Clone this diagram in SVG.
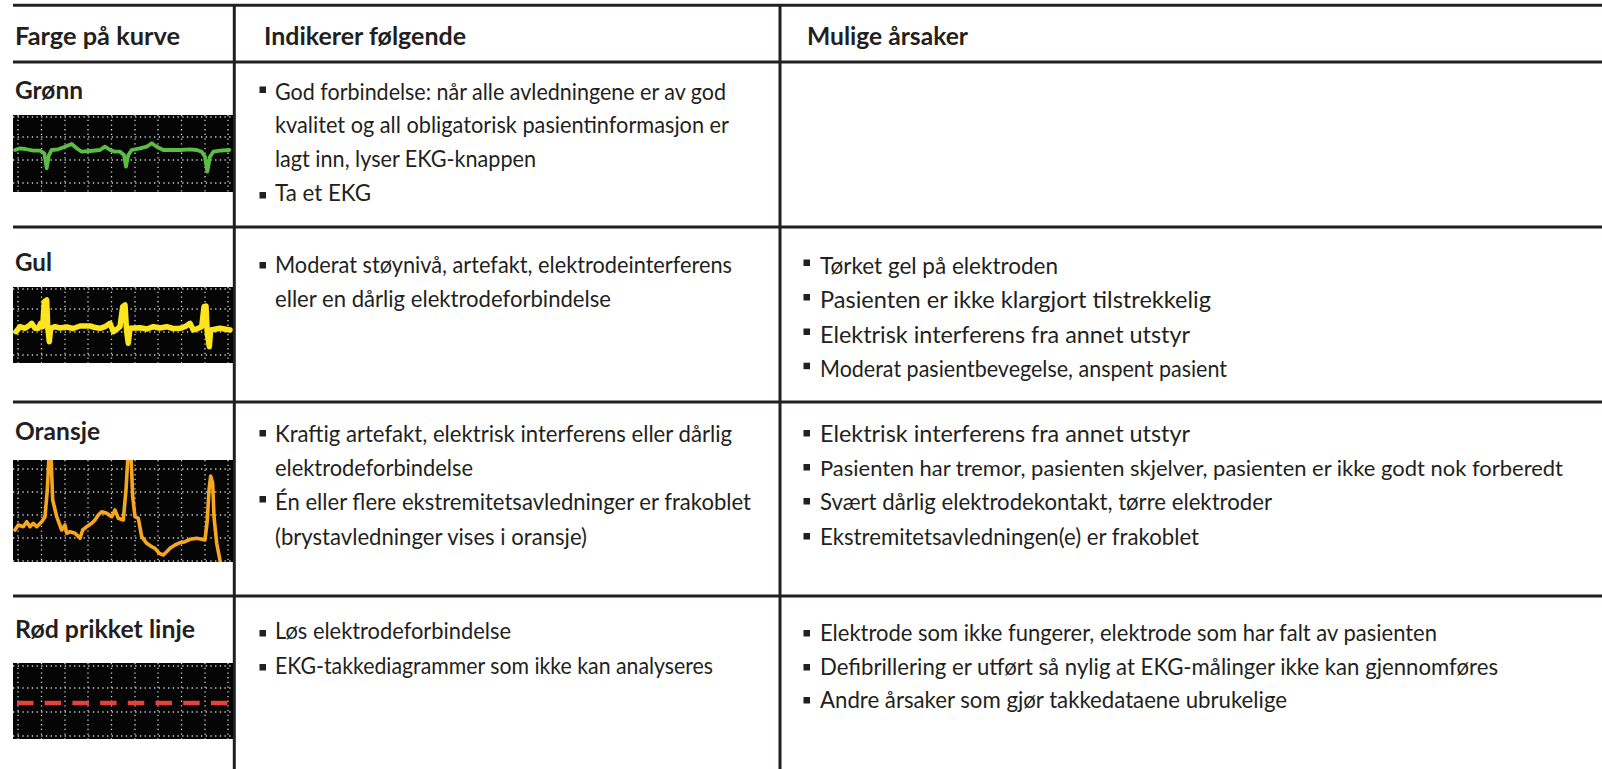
<svg xmlns="http://www.w3.org/2000/svg" width="1602" height="769" viewBox="0 0 1602 769">
<style>
.t{font-family:Lato,"Open Sans","Liberation Sans",sans-serif;font-size:24px;fill:#231f20}
.b{font-weight:700}
.rule{stroke:#231f20;stroke-width:2.8;fill:none}
.grid{stroke:#d2d2d2;stroke-width:1.3;stroke-dasharray:1.3 3.4;fill:none}
.bul{fill:#231f20}
.bg{fill:#050505}
.trace{fill:none;stroke-linejoin:round;stroke-linecap:round}
</style>
<defs>
<clipPath id="clipO"><rect x="13" y="460" width="220" height="102"/></clipPath>
</defs>
<rect width="1602" height="769" fill="#ffffff"/>

<g id="rules">
<line class="rule" x1="13" y1="5.3" x2="1602" y2="5.3" style="stroke-width:3"/>
<line class="rule" x1="13" y1="62" x2="1602" y2="62"/>
<line class="rule" x1="13" y1="227" x2="1602" y2="227"/>
<line class="rule" x1="13" y1="402" x2="1602" y2="402"/>
<line class="rule" x1="13" y1="596" x2="1602" y2="596"/>
<line class="rule" x1="234.3" y1="4" x2="234.3" y2="769" style="stroke-width:3"/>
<line class="rule" x1="780" y1="4" x2="780" y2="769" style="stroke-width:3"/>
</g>

<g id="header">
<text class="t b" x="15" y="45" textLength="165" lengthAdjust="spacingAndGlyphs">Farge på kurve</text>
<text class="t b" x="264" y="45" textLength="202" lengthAdjust="spacingAndGlyphs">Indikerer følgende</text>
<text class="t b" x="807" y="45" textLength="161" lengthAdjust="spacingAndGlyphs">Mulige årsaker</text>
</g>

<g id="row-gronn">
<text class="t b" x="15" y="99" textLength="68" lengthAdjust="spacingAndGlyphs">Grønn</text>
<g id="ecg-green">
<rect class="bg" x="13" y="115" width="220" height="77"/>
<g class="grid">
<path d="M18 115V192M41.5 115V192M65 115V192M88 115V192M111.5 115V192M135 115V192M158 115V192M181.5 115V192M205 115V192M228 115V192"/>
<path d="M13 117H233M13 137H233M13 160H233M13 183H233"/>
</g>
<path class="trace" stroke="#5cbd45" stroke-width="3.8" d="M15 150L20 148.3L25 149L33.3 150.7L40 150.7L44.3 153.3L46.7 168.3L49 155L51.7 150L58.3 149.3L65 146.7L71.7 144L76.7 148.3L81.7 151.7L90 151L100 150L105 146.7L110 150L115 151.7L120 151.7L124 155L126 166.7L128.3 155L131.7 150L140 148.3L146.7 146.7L151.7 143.3L156.7 146.7L163.3 150L170 150L180 150L190 149.3L196.7 150L201.7 151.7L205 156.7L207.3 171.7L210 156.7L213.3 151.7L220 150.7L229.3 150"/>
</g>
<g id="ind-gronn">
<rect class="bul" x="259.5" y="86.5" width="6.5" height="6.5"/>
<text class="t" x="275" y="100" textLength="451" lengthAdjust="spacingAndGlyphs">God forbindelse: når alle avledningene er av god</text>
<text class="t" x="275" y="133" textLength="454" lengthAdjust="spacingAndGlyphs">kvalitet og all obligatorisk pasientinformasjon er</text>
<text class="t" x="275" y="167" textLength="261" lengthAdjust="spacingAndGlyphs">lagt inn, lyser EKG-knappen</text>
<rect class="bul" x="259.5" y="192" width="6.5" height="6.5"/>
<text class="t" x="275" y="201" textLength="96" lengthAdjust="spacingAndGlyphs">Ta et EKG</text>
</g>
</g>

<g id="row-gul">
<text class="t b" x="15" y="271" textLength="37" lengthAdjust="spacingAndGlyphs">Gul</text>
<g id="ecg-yellow">
<rect class="bg" x="13" y="287" width="220" height="76"/>
<g class="grid">
<path d="M18 287V363M41.5 287V363M65 287V363M88 287V363M111.5 287V363M135 287V363M158 287V363M181.5 287V363M205 287V363M228 287V363"/>
<path d="M13 289H233M13 309H233M13 332H233M13 355H233"/>
</g>
<path class="trace" stroke="#fde51e" stroke-width="5.5" d="M16 331.7L20 326.7L25 328.3L30 325L31.7 323.3L35 328.3L38.3 328.3L40.7 323.3L42.7 326.7L44.3 301.7L46.7 300L47.7 326.7L49.3 341.7L50.7 328.3L55 326.7L60 328L66.7 327L73 328.5L80 326L90 326L95 327.5L100 328.3L105 326.7L110 323.3L113.3 331.7L116.7 329.3L120 326.7L122.7 306.7L125 305L126.7 331.7L128.3 343.3L130 328.3L140 327.7L147 329L153.3 326.7L160 328L166.7 326.7L173 328.5L180 328.3L185 326.7L190 323.3L193.3 330L198.3 328.3L201.7 326.7L204 306.7L206 306L207.3 333.3L209.3 346.7L210.7 330L220 328.3L230 330"/>
</g>
<g id="ind-gul">
<rect class="bul" x="259.5" y="262" width="6.5" height="6.5"/>
<text class="t" x="275" y="273" textLength="457" lengthAdjust="spacingAndGlyphs">Moderat støynivå, artefakt, elektrodeinterferens</text>
<text class="t" x="275" y="307" textLength="336" lengthAdjust="spacingAndGlyphs">eller en dårlig elektrodeforbindelse</text>
</g>
<g id="aar-gul">
<rect class="bul" x="803.5" y="259.5" width="6.5" height="6.5"/>
<text class="t" x="820" y="274" textLength="238" lengthAdjust="spacingAndGlyphs">Tørket gel på elektroden</text>
<rect class="bul" x="803.5" y="294" width="6.5" height="6.5"/>
<text class="t" x="820" y="308" textLength="391" lengthAdjust="spacingAndGlyphs">Pasienten er ikke klargjort tilstrekkelig</text>
<rect class="bul" x="803.5" y="328.5" width="6.5" height="6.5"/>
<text class="t" x="820" y="343" textLength="370" lengthAdjust="spacingAndGlyphs">Elektrisk interferens fra annet utstyr</text>
<rect class="bul" x="803.5" y="362.7" width="6.5" height="6.5"/>
<text class="t" x="820" y="377" textLength="407" lengthAdjust="spacingAndGlyphs">Moderat pasientbevegelse, anspent pasient</text>
</g>
</g>

<g id="row-oransje">
<text class="t b" x="15" y="440" textLength="85" lengthAdjust="spacingAndGlyphs">Oransje</text>
<g id="ecg-orange">
<rect class="bg" x="13" y="460" width="220" height="102"/>
<g class="grid">
<path d="M18 460V562M41.5 460V562M65 460V562M88 460V562M111.5 460V562M135 460V562M158 460V562M181.5 460V562M205 460V562M228 460V562"/>
<path d="M13 469H233M13 492H233M13 515H233M13 538H233M13 561H233"/>
</g>
<path class="trace" clip-path="url(#clipO)" stroke="#f6a71f" stroke-width="3.6" d="M15 530L18.3 525L23.3 526.7L26.7 521.7L30 526.7L33.3 523.3L36.7 526.7L41.7 521.7L45 516.7L47.3 490L49 455L51 455L52.7 500L56.7 516.7L61.7 530L65 525L66.7 533.3L70 531.7L75 533.3L80 538.3L82.7 530L86.7 526.7L91.7 523.3L95 520L98.3 515L101.7 511.7L106.7 513.3L111.7 516.7L115 510L118.3 518.3L123.3 520L126 490L128 455L131 455L132.7 496.7L135 516.7L138.3 518.3L141.7 536.7L146.7 543.3L151.7 546.7L155 548.3L159.3 553.3L163.3 555L166.7 551.7L170 548.3L175 545L180 542.7L185 541.7L190 539.3L196.7 538.3L201.7 539.3L205 540L207.3 520L209 490L210.7 476L212.7 483.3L214 516.7L216.7 543.3L219.3 556.7L221 566"/>
</g>
<g id="ind-oransje">
<rect class="bul" x="259.5" y="430" width="6.5" height="6.5"/>
<text class="t" x="275" y="442" textLength="457" lengthAdjust="spacingAndGlyphs">Kraftig artefakt, elektrisk interferens eller dårlig</text>
<text class="t" x="275" y="476" textLength="198" lengthAdjust="spacingAndGlyphs">elektrodeforbindelse</text>
<rect class="bul" x="259.5" y="496" width="6.5" height="6.5"/>
<text class="t" x="275" y="510" textLength="476" lengthAdjust="spacingAndGlyphs">Én eller flere ekstremitetsavledninger er frakoblet</text>
<text class="t" x="275" y="545" textLength="312" lengthAdjust="spacingAndGlyphs">(brystavledninger vises i oransje)</text>
</g>
<g id="aar-oransje">
<rect class="bul" x="803.5" y="430" width="6.5" height="6.5"/>
<text class="t" x="820" y="442" textLength="370" lengthAdjust="spacingAndGlyphs">Elektrisk interferens fra annet utstyr</text>
<rect class="bul" x="803.5" y="464" width="6.5" height="6.5"/>
<text class="t" x="820" y="476" style="font-size:22px" textLength="743" lengthAdjust="spacingAndGlyphs">Pasienten har tremor, pasienten skjelver, pasienten er ikke godt nok forberedt</text>
<rect class="bul" x="803.5" y="498" width="6.5" height="6.5"/>
<text class="t" x="820" y="510" textLength="452" lengthAdjust="spacingAndGlyphs">Svært dårlig elektrodekontakt, tørre elektroder</text>
<rect class="bul" x="803.5" y="533" width="6.5" height="6.5"/>
<text class="t" x="820" y="545" textLength="379" lengthAdjust="spacingAndGlyphs">Ekstremitetsavledningen(e) er frakoblet</text>
</g>
</g>

<g id="row-rod">
<text class="t b" x="15" y="638" textLength="180" lengthAdjust="spacingAndGlyphs">Rød prikket linje</text>
<g id="ecg-red">
<rect class="bg" x="13" y="663" width="220" height="76"/>
<g class="grid">
<path d="M18 663V739M41.5 663V739M65 663V739M88 663V739M111.5 663V739M135 663V739M158 663V739M181.5 663V739M205 663V739M228 663V739"/>
<path d="M13 666H233M13 688H233M13 712H233M13 736H233"/>
</g>
<line x1="17" y1="703" x2="228" y2="703" stroke="#e8403a" stroke-width="4.5" stroke-dasharray="16.5 11.2"/>
</g>
<g id="ind-rod">
<rect class="bul" x="259.5" y="630" width="6.5" height="6.5"/>
<text class="t" x="275" y="639" textLength="236" lengthAdjust="spacingAndGlyphs">Løs elektrodeforbindelse</text>
<rect class="bul" x="259.5" y="664" width="6.5" height="6.5"/>
<text class="t" x="275" y="674" textLength="438" lengthAdjust="spacingAndGlyphs">EKG-takkediagrammer som ikke kan analyseres</text>
</g>
<g id="aar-rod">
<rect class="bul" x="803.5" y="630" width="6.5" height="6.5"/>
<text class="t" x="820" y="641" textLength="617" lengthAdjust="spacingAndGlyphs">Elektrode som ikke fungerer, elektrode som har falt av pasienten</text>
<rect class="bul" x="803.5" y="664" width="6.5" height="6.5"/>
<text class="t" x="820" y="675" textLength="678" lengthAdjust="spacingAndGlyphs">Defibrillering er utført så nylig at EKG-målinger ikke kan gjennomføres</text>
<rect class="bul" x="803.5" y="697" width="6.5" height="6.5"/>
<text class="t" x="820" y="708" textLength="467" lengthAdjust="spacingAndGlyphs">Andre årsaker som gjør takkedataene ubrukelige</text>
</g>
</g>
</svg>
